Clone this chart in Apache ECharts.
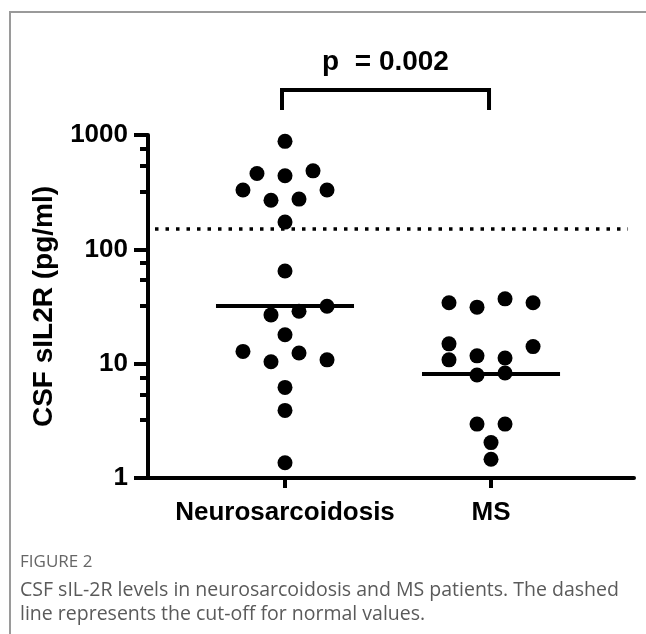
<!DOCTYPE html>
<html>
<head>
<meta charset="utf-8">
<script src="https://cdn.jsdelivr.net/npm/echarts@6/dist/echarts.min.js"></script>
<style>
  html, body { margin: 0; padding: 0; background: #fff; }
  #chart { width: 646px; height: 634px; }
</style>
</head>
<body>
<div id="chart"></div>
<script>
// groups on the x axis
const categories = ['Neurosarcoidosis', 'MS']

// CSF sIL2R (pg/ml) per patient, with horizontal column slot (-3..3) of the dot
const neuroValues = [880, 461, 440, 486, 330, 330, 269, 275, 173, 64.6,
  26.7, 28.7, 31.8, 17.9, 12.8, 12.4, 10.4, 10.8, 6.2, 3.9, 1.36]
const neuroSlots = [0, -2, 0, 2, -3, 3, -1, 1, 0, 0,
  -1, 1, 3, 0, -3, 1, -1, 3, 0, 0, 0]

const msValues = [34.1, 31.2, 36.9, 34.1, 14.9, 10.8, 11.7, 11.2, 14.1,
  7.96, 8.28, 2.96, 2.96, 2.04, 1.46]
const msSlots = [-3, -1, 1, 3, -3, -3, -1, 1, 3, -1, 1, -1, 1, 0, 0]

// medians drawn as horizontal bars
const medians = [32, 8.1]
// cut-off for normal values
const cutoff = 150

// y axis ticks
const majorTicks = [1, 10, 100, 1000]
const minorTicks = [3.2, 5.4, 7.6, 32, 54, 76, 320, 540, 760]

const slotWidth = 0.068
const medianHalf = 0.335
const font = 'Arial, "Liberation Sans", sans-serif'

function toPoints(values, slots, catIndex) {
  return values.map(function (v, i) {
    return [catIndex + 1 + slots[i] * slotWidth, v]
  })
}

const chart = echarts.init(document.getElementById('chart'), null, { renderer: 'canvas' })

const option = {
  animation: false,
  grid: { left: 148, top: 135, right: 12, bottom: 156 },
  xAxis: {
    type: 'value',
    min: 0.335,
    max: 2.694,
    splitLine: { show: false },
    axisLine: { onZero: false, lineStyle: { color: '#000', width: 4 } },
    axisTick: { customValues: [1, 2], length: 10, lineStyle: { color: '#000', width: 4 } },
    axisLabel: {
      customValues: [1, 2],
      margin: 22,
      color: '#000',
      fontSize: 26,
      fontWeight: 'bold',
      fontFamily: font,
      formatter: function (v) { return categories[Math.round(v) - 1] }
    }
  },
  yAxis: [
    {
      type: 'log',
      logBase: 10,
      min: 1,
      max: 1000,
      name: 'CSF sIL2R (pg/ml)',
      nameLocation: 'middle',
      nameGap: 90,
      nameTextStyle: { color: '#000', fontSize: 28, fontWeight: 'bold', fontFamily: font },
      splitLine: { show: false },
      axisLine: { lineStyle: { color: '#000', width: 4 } },
      axisTick: { customValues: majorTicks, length: 14, lineStyle: { color: '#000', width: 4 } },
      axisLabel: {
        customValues: majorTicks,
        margin: 20,
        color: '#000',
        fontSize: 26,
        fontWeight: 'bold',
        fontFamily: font,
        formatter: function (v) { return String(v) }
      }
    },
    {
      // only carries the short minor ticks
      type: 'log',
      logBase: 10,
      min: 1,
      max: 1000,
      position: 'left',
      splitLine: { show: false },
      axisLine: { show: false },
      axisTick: { customValues: minorTicks, length: 8, lineStyle: { color: '#000', width: 4 } },
      axisLabel: { show: false }
    }
  ],
  series: [
    {
      name: categories[0],
      type: 'scatter',
      symbolSize: 15,
      itemStyle: { color: '#000', opacity: 1 },
      data: toPoints(neuroValues, neuroSlots, 0),
      z: 3
    },
    {
      name: categories[1],
      type: 'scatter',
      symbolSize: 15,
      itemStyle: { color: '#000', opacity: 1 },
      data: toPoints(msValues, msSlots, 1),
      z: 3
    },
    {
      name: 'median',
      type: 'line',
      symbol: 'none',
      data: [],
      markLine: {
        silent: true,
        symbol: ['none', 'none'],
        label: { show: false },
        lineStyle: { color: '#000', width: 4, type: 'solid' },
        data: medians.map(function (m, i) {
          return [{ coord: [i + 1 - medianHalf, m] }, { coord: [i + 1 + medianHalf, m] }]
        })
      }
    },
    {
      name: 'cut-off',
      type: 'line',
      symbol: 'none',
      data: [],
      markLine: {
        silent: true,
        symbol: ['none', 'none'],
        label: { show: false },
        lineStyle: { color: '#000', width: 3.5, type: [3.5, 7] },
        data: [[{ coord: [0.369, cutoff] }, { coord: [2.665, cutoff] }]]
      }
    }
  ]
}
chart.setOption(option)

// significance bracket above the two groups
const x1 = chart.convertToPixel({ xAxisIndex: 0 }, 1) - 3
const x2 = chart.convertToPixel({ xAxisIndex: 0 }, 2) - 2
chart.setOption({
  graphic: [
    {
      type: 'polyline',
      shape: { points: [[10, 634], [10, 12], [646, 12]] },
      style: { stroke: '#9a9a9a', lineWidth: 2, fill: null }
    },
    {
      type: 'polyline',
      shape: { points: [[x1, 110], [x1, 90], [x2, 90], [x2, 110]] },
      style: { stroke: '#000', lineWidth: 4, fill: null }
    },
    {
      type: 'text',
      x: (x1 + x2) / 2,
      y: 62,
      style: {
        text: 'p  = 0.002',
        fill: '#000',
        font: 'bold 28px ' + font,
        textAlign: 'center',
        textVerticalAlign: 'middle'
      }
    },
    {
      type: 'text',
      x: 20,
      y: 562,
      style: {
        text: 'FIGURE 2',
        fill: '#666',
        font: '17px "Open Sans", sans-serif',
        textVerticalAlign: 'middle'
      }
    },
    {
      type: 'text',
      x: 20,
      y: 590,
      style: {
        text: 'CSF sIL-2R levels in neurosarcoidosis and MS patients. The dashed',
        fill: '#5a5a5a',
        font: '19.5px "Open Sans", sans-serif',
        textVerticalAlign: 'middle'
      }
    },
    {
      type: 'text',
      x: 20,
      y: 614,
      style: {
        text: 'line represents the cut-off for normal values.',
        fill: '#5a5a5a',
        font: '19.5px "Open Sans", sans-serif',
        textVerticalAlign: 'middle'
      }
    }
  ]
})
</script>
</body>
</html>
